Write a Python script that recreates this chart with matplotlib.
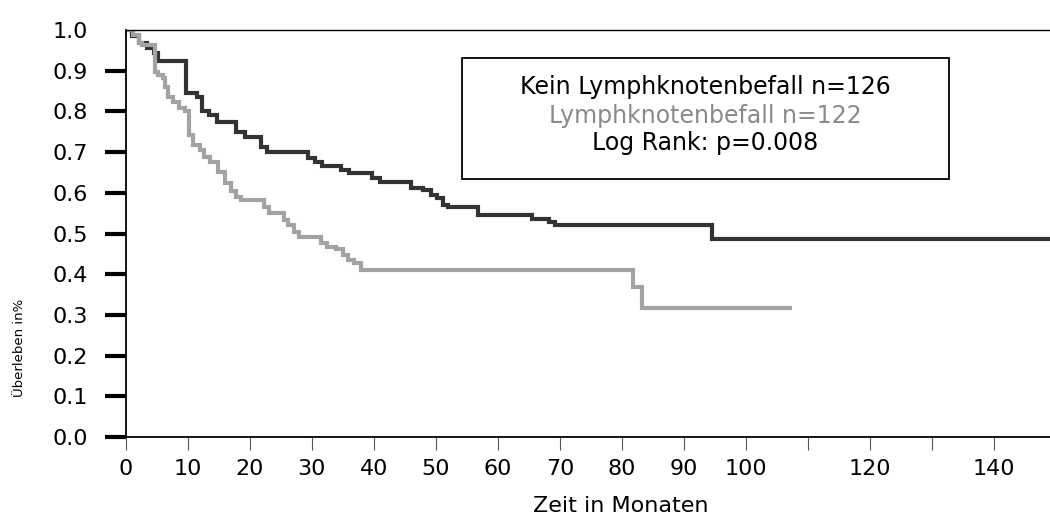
import matplotlib
matplotlib.use('Agg')
from matplotlib import pyplot as plt
from matplotlib.patches import Rectangle

plt.rcParams['font.family'] = ['DejaVu Sans']

# survival steps, no lymph node involvement (n=126)
months_neg = [0, 1.0, 2.2, 3.4, 4.6, 5.3, 9.8, 11.6, 12.4, 13.4, 14.8, 17.8, 19.3,
              21.9, 22.8, 29.4, 30.6, 31.7, 34.8, 36.0, 39.8, 41.0, 46.0, 48.0,
              49.3, 50.2, 51.1, 52.0, 56.8, 65.5, 68.2, 69.3, 94.5, 149]
surv_neg = [1.0, 0.985, 0.968, 0.955, 0.943, 0.924, 0.845, 0.835, 0.80, 0.79, 0.774,
            0.75, 0.737, 0.713, 0.70, 0.685, 0.676, 0.666, 0.656, 0.649, 0.636,
            0.627, 0.612, 0.607, 0.595, 0.587, 0.570, 0.565, 0.545, 0.536, 0.528,
            0.521, 0.487, 0.487]

# survival steps, lymph node involvement (n=122)
months_pos = [0, 1.2, 2.2, 2.6, 4.7, 5.3, 6.0, 6.3, 6.8, 7.6, 8.6, 9.6, 10.2, 10.9,
              12.0, 12.6, 13.6, 14.9, 16.1, 17.0, 17.8, 18.6, 22.4, 23.2, 25.6,
              26.2, 27.2, 28.0, 31.5, 32.5, 34.0, 35.0, 35.8, 36.8, 37.9, 81.8,
              83.2, 107.4]
surv_pos = [1.0, 0.988, 0.968, 0.963, 0.897, 0.889, 0.882, 0.86, 0.835, 0.823, 0.808,
            0.80, 0.742, 0.717, 0.705, 0.688, 0.676, 0.651, 0.625, 0.604, 0.590,
            0.582, 0.565, 0.55, 0.533, 0.521, 0.504, 0.491, 0.477, 0.467, 0.462,
            0.447, 0.435, 0.427, 0.41, 0.369, 0.317, 0.317]

x_ticks = list(range(0, 150, 10))
x_labels = ['0', '10', '20', '30', '40', '50', '60', '70', '80', '90', '100',
            '', '120', '', '140']
y_ticks = [0.0, 0.1, 0.2, 0.3, 0.4, 0.5, 0.6, 0.7, 0.8, 0.9, 1.0]

legend_lines = ['Kein Lymphknotenbefall n=126', 'Lymphknotenbefall n=122',
                'Log Rank: p=0.008']

fig = plt.figure(figsize=(10.5, 5.18), dpi=100)
ax = fig.add_axes([125.5 / 1050, 81 / 518, (1050 - 125.5) / 1050, 407 / 518])

ax.step(months_neg, surv_neg, where='post', color='#333333', lw=3,
        solid_joinstyle='miter', solid_capstyle='butt')
ax.step(months_pos, surv_pos, where='post', color='#a3a3a3', lw=3,
        solid_joinstyle='miter', solid_capstyle='butt')

ax.set_xlim(0, 149)
ax.set_ylim(0, 1.0)

ax.spines['right'].set_visible(False)
ax.spines['left'].set_linewidth(1.3)
ax.spines['bottom'].set_linewidth(1.3)
ax.spines['top'].set_linewidth(1.0)

ax.set_xticks(x_ticks)
ax.set_xticklabels(x_labels)
ax.set_yticks(y_ticks)
ax.set_yticklabels(['%.1f' % v for v in y_ticks])
ax.tick_params(axis='x', direction='out', length=9.5, width=0.8, color='#555555',
               labelsize=16, pad=6)
ax.tick_params(axis='y', direction='out', length=15, width=3, color='black',
               labelsize=16, pad=12)
# no dash at the 1.0 mark
ax.yaxis.get_major_ticks()[-1].tick1line.set_visible(False)

ax.set_xlabel('Zeit in Monaten', fontsize=16)
ax.xaxis.set_label_coords(0.536, -0.145)
ax.set_ylabel('Überleben in%', fontsize=9.5)
ax.yaxis.set_label_coords(-0.108, 0.22)

# text box with group sizes and test result
ax.add_patch(Rectangle((0.364, 0.634), 0.527, 0.297, transform=ax.transAxes,
                       fill=False, edgecolor='black', lw=1.3))
ax.text(0.627, 0.859, legend_lines[0], transform=ax.transAxes, ha='center',
        va='center', fontsize=17, color='black')
ax.text(0.627, 0.789, legend_lines[1], transform=ax.transAxes, ha='center',
        va='center', fontsize=17, color='#8a8a8a')
ax.text(0.627, 0.722, legend_lines[2], transform=ax.transAxes, ha='center',
        va='center', fontsize=17, color='black')

plt.savefig('out.png', dpi=100)
